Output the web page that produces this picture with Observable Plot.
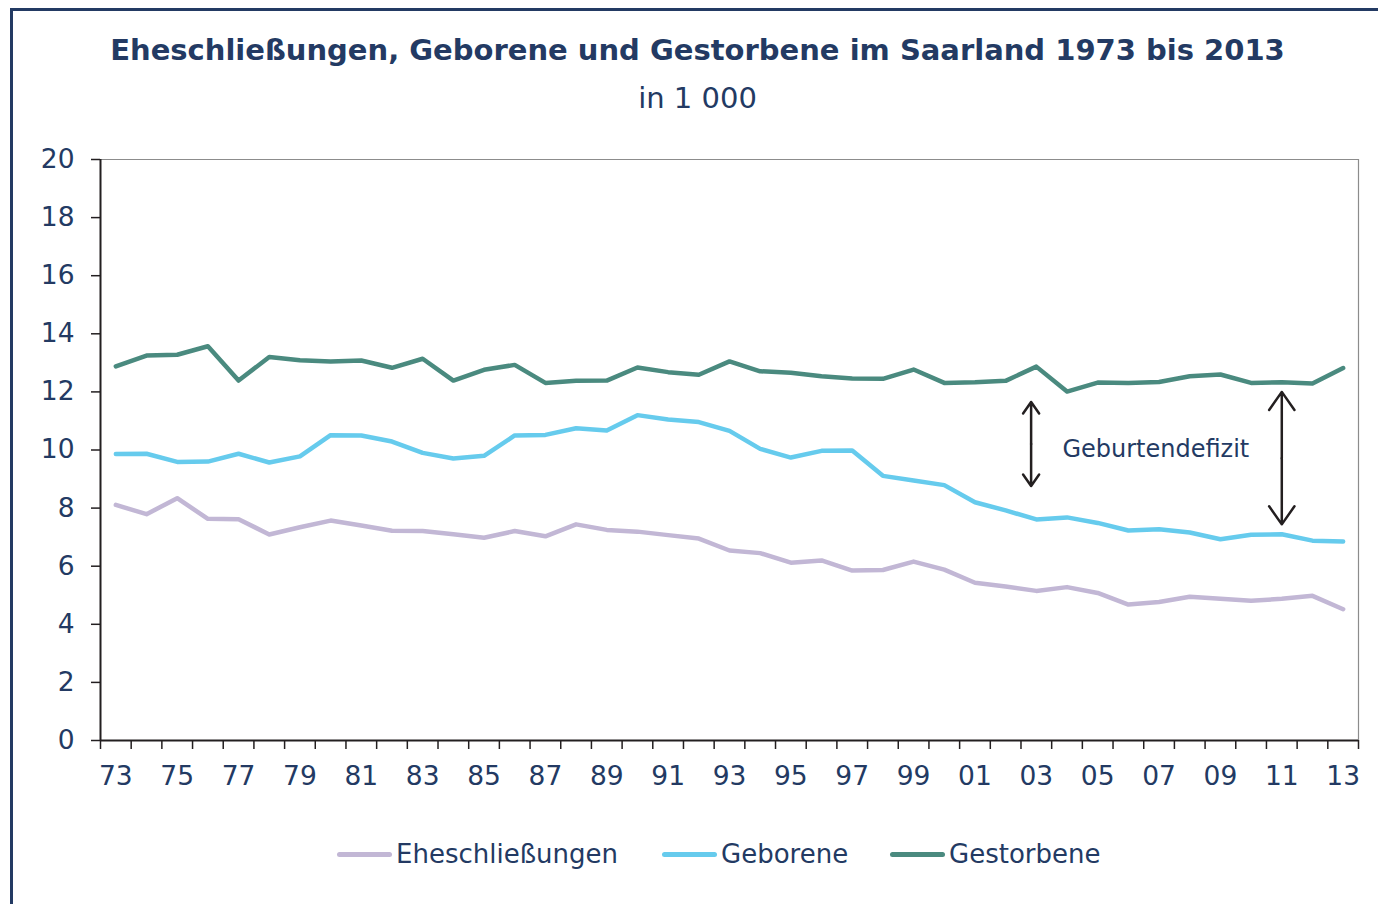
<!DOCTYPE html>
<html>
<head>
<meta charset="utf-8">
<script src="https://cdn.jsdelivr.net/npm/d3@7"></script>
<script src="https://cdn.jsdelivr.net/npm/@observablehq/plot@0.6"></script>
<style>
  html, body { margin: 0; padding: 0; background: #fff; }
  body { width: 1378px; height: 904px; position: relative; overflow: hidden; font-family: "DejaVu Sans", Verdana, sans-serif; color: #233a63; }
  #frame { position: absolute; left: 10px; top: 8px; width: 1400px; height: 940px; border-left: 3px solid #233a63; border-top: 3px solid #233a63; }
  #title { position: absolute; left: 0; width: 1395px; top: 30px; text-align: center; font-weight: bold; font-size: 29px; line-height: 40px; }
  #subtitle { position: absolute; left: 0; width: 1395px; top: 78px; text-align: center; font-size: 29px; line-height: 40px; }
  #chart { position: absolute; left: 0; top: 120px; }
  #legend { position: absolute; top: 836px; left: 0; width: 1378px; height: 36px; }
  .item { position: absolute; top: 0; display: flex; align-items: center; font-size: 26px; line-height: 36px; }
  .sw { width: 55px; height: 5px; border-radius: 3px; margin-right: 4px; }
</style>
</head>
<body>
<div id="frame"></div>
<div id="title">Eheschließungen, Geborene und Gestorbene im Saarland 1973 bis 2013</div>
<div id="subtitle">in 1 000</div>
<div id="chart"></div>
<div id="legend"></div>
<script>
const years = d3.range(1973, 2014);
const eheschliessungen = [8.11, 7.79, 8.34, 7.63, 7.62, 7.09, 7.34, 7.57, 7.40, 7.22, 7.21, 7.10, 6.98, 7.21, 7.03, 7.44, 7.25, 7.19, 7.07, 6.95, 6.54, 6.45, 6.12, 6.20, 5.85, 5.87, 6.16, 5.88, 5.43, 5.30, 5.15, 5.28, 5.08, 4.68, 4.77, 4.95, 4.88, 4.81, 4.88, 4.98, 4.52];
const geborene = [9.86, 9.87, 9.59, 9.60, 9.87, 9.57, 9.78, 10.51, 10.50, 10.29, 9.90, 9.71, 9.80, 10.50, 10.52, 10.75, 10.67, 11.20, 11.05, 10.96, 10.66, 10.04, 9.74, 9.97, 9.98, 9.11, 8.95, 8.79, 8.20, 7.92, 7.61, 7.68, 7.49, 7.23, 7.27, 7.16, 6.93, 7.08, 7.10, 6.88, 6.85];
const gestorbene = [12.88, 13.25, 13.28, 13.57, 12.39, 13.20, 13.09, 13.05, 13.08, 12.83, 13.14, 12.39, 12.76, 12.93, 12.31, 12.38, 12.39, 12.84, 12.68, 12.59, 13.05, 12.71, 12.66, 12.54, 12.46, 12.45, 12.77, 12.31, 12.33, 12.38, 12.87, 12.01, 12.32, 12.31, 12.34, 12.54, 12.60, 12.31, 12.33, 12.29, 12.82];
const seriesNames = ["Eheschließungen", "Geborene", "Gestorbene"];
const seriesColors = ["#c2b7d5", "#66cbed", "#4a8a7f"];
const yTicks = d3.range(0, 21, 2);
const xLabelYears = years.filter(y => y % 2 === 1);
const arrowX = [2002.83, 2011];
const arrowTop = [11.65, 12.0];
const arrowBottom = [8.76, 7.44];
const noteText = ["Geburtendefizit"];
const noteX = [2003.85];
const noteY = [10.02];

const rows = [];
[eheschliessungen, geborene, gestorbene].forEach((vals, i) => {
  vals.forEach((v, j) => rows.push({year: years[j], value: v, series: seriesNames[i]}));
});
const bounds = years.map(y => y - 0.5).concat([years[years.length - 1] + 0.5]);
const arrows = arrowX.map((x, i) => ({x, top: arrowTop[i], bottom: arrowBottom[i], mid: (arrowTop[i] + arrowBottom[i]) / 2}));
const notes = noteText.map((t, i) => ({t, x: noteX[i], y: noteY[i]}));
const xmin = bounds[0], xmax = bounds[bounds.length - 1];

const plot = Plot.plot({
  width: 1378,
  height: 700,
  marginTop: 39,
  marginBottom: 80,
  marginLeft: 100,
  marginRight: 20,
  style: {fontFamily: "DejaVu Sans, Verdana, sans-serif", fontSize: "26px", color: "#233a63", background: "transparent", overflow: "visible"},
  x: {domain: [xmin, xmax]},
  y: {domain: [0, 20]},
  color: {domain: seriesNames, range: seriesColors},
  marks: [
    Plot.ruleY([20], {stroke: "#8c8c8c", strokeWidth: 1.2}),
    Plot.ruleX([xmax], {stroke: "#8c8c8c", strokeWidth: 1.2}),
    Plot.axisY({ticks: yTicks, tickSize: 9, tickPadding: 17, stroke: "#231f20", strokeWidth: 1.5, fill: "#233a63", fontSize: 26.5, label: null}),
    Plot.axisX({ticks: bounds, tickSize: 9, stroke: "#231f20", strokeWidth: 1.5, tickFormat: () => "", label: null}),
    Plot.axisX({ticks: xLabelYears, tickSize: 0, tickPadding: 26, tickFormat: d => String(d % 100).padStart(2, "0"), fill: "#233a63", fontSize: 26.5, label: null}),
    Plot.line(rows, {x: "year", y: "value", z: "series", stroke: "series", strokeWidth: 4.5, strokeLinejoin: "round", strokeLinecap: "round"}),
    Plot.ruleX([xmin], {stroke: "#231f20", strokeWidth: 2}),
    Plot.ruleY([0], {stroke: "#231f20", strokeWidth: 2}),
    Plot.arrow(arrows, {x1: "x", x2: "x", y1: "mid", y2: "top", stroke: "#231f20", strokeWidth: 2.5, headLength: 18, headAngle: 70}),
    Plot.arrow(arrows, {x1: "x", x2: "x", y1: "mid", y2: "bottom", stroke: "#231f20", strokeWidth: 2.5, headLength: 18, headAngle: 70}),
    Plot.text(notes, {x: "x", y: "y", text: "t", textAnchor: "start", fill: "#233a63", fontSize: 24})
  ]
});
document.getElementById("chart").appendChild(plot);

const legendPos = [337, 662, 890];
const legend = document.getElementById("legend");
seriesNames.forEach((name, i) => {
  const item = document.createElement("div");
  item.className = "item";
  item.style.left = legendPos[i] + "px";
  const sw = document.createElement("div");
  sw.className = "sw";
  sw.style.background = seriesColors[i];
  const label = document.createElement("span");
  label.textContent = name;
  item.appendChild(sw);
  item.appendChild(label);
  legend.appendChild(item);
});
</script>
</body>
</html>
